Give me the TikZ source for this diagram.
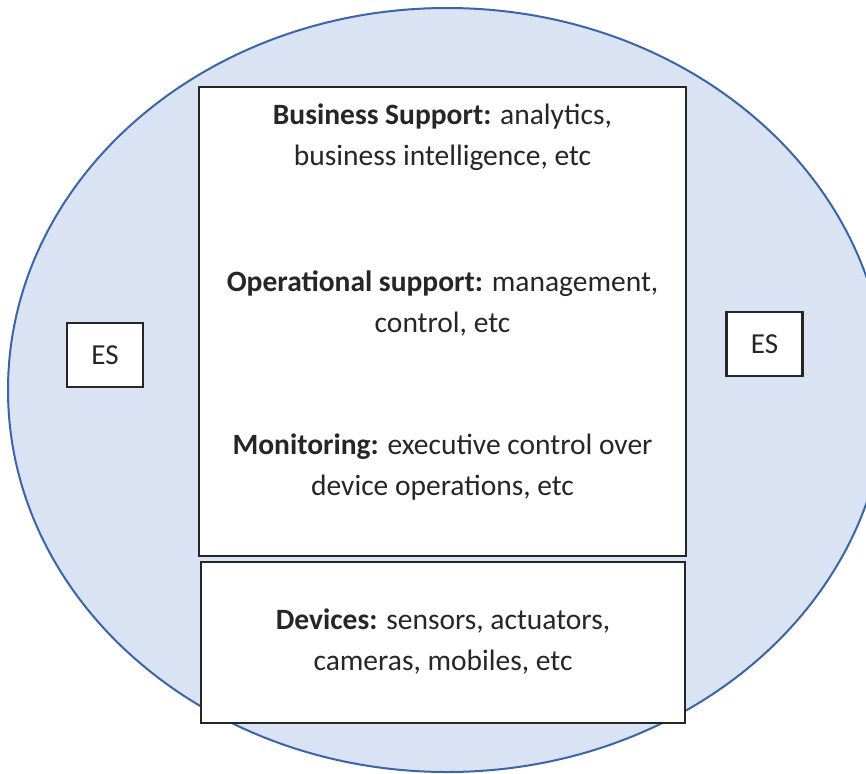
\documentclass[tikz,border=0pt]{standalone}
\usepackage{fontspec}
\setmainfont{Carlito}
\usetikzlibrary{positioning}

\definecolor{cloudfill}{HTML}{DAE3F3}
\definecolor{cloudline}{HTML}{3C64A8}
\definecolor{boxline}{HTML}{262626}

\tikzset{
	layer/.style = {draw = boxline, line width = 2.4pt, fill = white},
	layertext/.style = {align = center, font = \fontsize{29.5}{41}\selectfont, text = black!85},
	esbox/.style = {layer, minimum width = 76pt, minimum height = 64pt, font = \fontsize{29}{32}\selectfont, text = black!85}
}

\begin{document}
\begin{tikzpicture}[x = 1pt, y = 1pt]

	\useasboundingbox (0, 0) rectangle (866, -773);

	% Outer ellipse
	
	\draw [fill = cloudfill, draw = cloudline, line width = 2pt] (447, -390) ellipse (439 and 382);
	
	% Main stack of support layers
	
	\node [layer, minimum width = 487pt, minimum height = 469pt] (stack) at (442.5, -321.5) {};
	
	\node [layer, minimum width = 484pt, minimum height = 161pt] (devices) at (443, -642.5) {};
	
	% Layer texts
	
	\node [layertext] (business) at (442.5, -137.5) {\textbf{Business Support:} analytics,\\business intelligence, etc};
	
	\node [layertext] (operational) at (442.5, -303.5) {\textbf{Operational support:} management,\\control, etc};
	
	\node [layertext] (monitoring) at (442.5, -467.5) {\textbf{Monitoring:} executive control over\\device operations, etc};
	
	\node [layertext] (devtext) at (443, -642) {\textbf{Devices:} sensors, actuators,\\cameras, mobiles, etc};
	
	% ES boxes
	
	\node [esbox] (esleft) at (105, -355) {ES};
	
	\node [esbox] (esright) at (764.5, -344) {ES};

\end{tikzpicture}
\end{document}
